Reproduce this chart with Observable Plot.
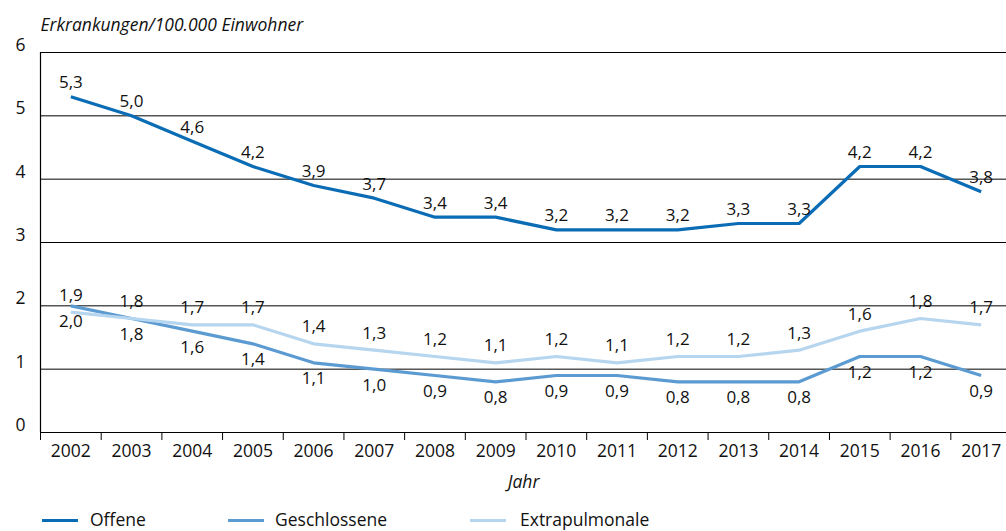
<!DOCTYPE html>
<html>
<head>
<meta charset="utf-8">
<script src="https://cdn.jsdelivr.net/npm/d3@7"></script>
<script src="https://cdn.jsdelivr.net/npm/@observablehq/plot@0.6"></script>
<style>
  body { margin: 0; background: #fff; font-family: "Open Sans", sans-serif; }
  #chart svg { display: block; }
  #legend { position: relative; width: 1006px; height: 31px; font-family: "Open Sans", sans-serif; font-size: 17.5px; color: #111; }
  .sw { position: absolute; top: 19px; width: 36px; height: 3px; }
  .lt { position: absolute; top: 7px; line-height: 24px; }
</style>
</head>
<body>
<div id="chart"></div>
<div id="legend"></div>
<script>
const years = [2002, 2003, 2004, 2005, 2006, 2007, 2008, 2009, 2010, 2011, 2012, 2013, 2014, 2015, 2016, 2017];
const offene = [5.3, 5.0, 4.6, 4.2, 3.9, 3.7, 3.4, 3.4, 3.2, 3.2, 3.2, 3.3, 3.3, 4.2, 4.2, 3.8];
const geschlossene = [2.0, 1.8, 1.6, 1.4, 1.1, 1.0, 0.9, 0.8, 0.9, 0.9, 0.8, 0.8, 0.8, 1.2, 1.2, 0.9];
const extrapulmonale = [1.9, 1.8, 1.7, 1.7, 1.4, 1.3, 1.2, 1.1, 1.2, 1.1, 1.2, 1.2, 1.3, 1.6, 1.8, 1.7];
const yTicks = [0, 1, 2, 3, 4, 5, 6];
const seriesNames = ["Offene", "Geschlossene", "Extrapulmonale"];
const seriesColors = ["#0a6cb4", "#5b9bd2", "#b6d5ee"];
const yLabel = "Erkrankungen/100.000 Einwohner";
const xLabel = "Jahr";

const seriesValues = [offene, geschlossene, extrapulmonale];
const table = seriesNames.flatMap((name, i) => years.map((year, j) => ({series: name, year, value: seriesValues[i][j]})));
const fmt = v => v.toFixed(1).replace(".", ",");
const boundaries = years.map(y => y - 0.5);
const font = "Open Sans, sans-serif";

const labelDy = {Offene: -14, Geschlossene: 16, Extrapulmonale: -17};

const plot = Plot.plot({
  width: 1006,
  height: 500,
  marginTop: 52,
  marginBottom: 68,
  marginLeft: 40,
  marginRight: 0,
  style: {fontFamily: font, fontSize: "17px", color: "#111", background: "#fff"},
  x: {type: "linear", domain: [2001.5, 2017.5], range: [40, 1011]},
  y: {domain: [0, 6]},
  color: {domain: seriesNames, range: seriesColors},
  marks: [
    Plot.gridY(yTicks.filter(d => d > 0), {stroke: "#000", strokeOpacity: 1, strokeWidth: 1}),
    Plot.ruleY([0], {stroke: "#000", strokeWidth: 1.2}),
    Plot.ruleX([2001.5], {y1: 0, y2: 6, stroke: "#000", strokeWidth: 1.2}),
    Plot.axisX(boundaries, {tickSize: 8, tickFormat: () => "", stroke: "#000", label: null}),
    Plot.axisX(years, {tickSize: 0, tickPadding: 12, tickFormat: d => String(d), fontSize: 17.5, fill: "#111", label: null}),
    Plot.axisY(yTicks, {tickSize: 0, tickPadding: 15, dy: -7, tickFormat: d => String(d), fontSize: 17.5, fill: "#111", label: null}),
    Plot.text([yLabel], {frameAnchor: "top-left", dy: -34, textAnchor: "start", fontStyle: "italic", fontSize: 17.5, fill: "#111"}),
    Plot.text([xLabel], {frameAnchor: "bottom", dy: 55, fontStyle: "italic", fontSize: 17.5, fill: "#111"}),
    Plot.line(table, {x: "year", y: "value", z: "series", stroke: "series", strokeWidth: 3.2, strokeLinejoin: "miter", strokeLinecap: "butt"}),
    ...seriesNames.map(name => Plot.text(table.filter(d => d.series === name), {
      x: "year", y: "value", text: d => fmt(d.value), dy: labelDy[name], fontSize: 17, fill: "#111"
    }))
  ]
});
document.getElementById("chart").appendChild(plot);

const legend = document.getElementById("legend");
const legendPos = [[42, 90], [228, 275], [470, 520]];
seriesNames.forEach((name, i) => {
  const sw = document.createElement("div");
  sw.className = "sw";
  sw.style.left = legendPos[i][0] + "px";
  sw.style.background = seriesColors[i];
  legend.appendChild(sw);
  const t = document.createElement("div");
  t.className = "lt";
  t.style.left = legendPos[i][1] + "px";
  t.textContent = name;
  legend.appendChild(t);
});
</script>
</body>
</html>
